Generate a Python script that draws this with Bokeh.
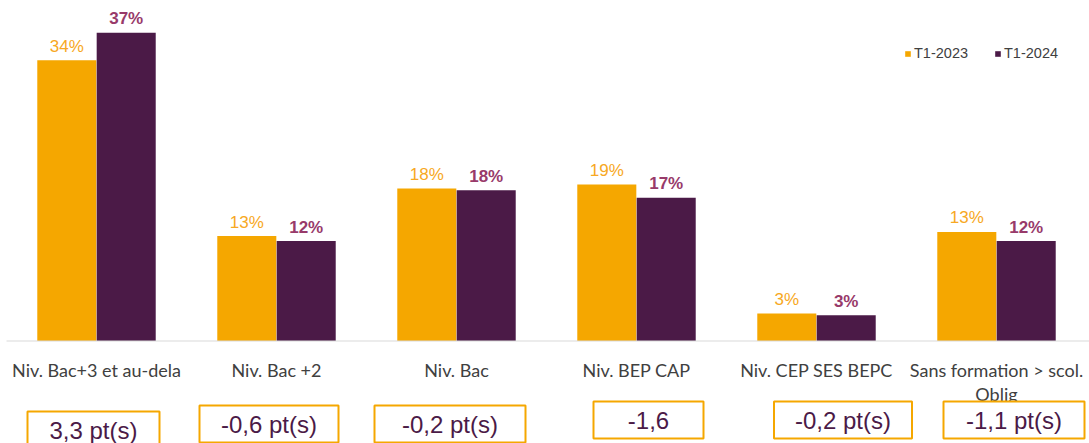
from bokeh.plotting import figure
from bokeh.models import Range1d, Legend, LegendItem, ColumnDataSource
from bokeh.transform import dodge
from bokeh.core.properties import value
from bokeh.embed import file_html
from bokeh.resources import INLINE
import numpy as np

# ---------------- data ----------------
categories = ["Niv. Bac+3 et au-dela", "Niv. Bac +2", "Niv. Bac", "Niv. BEP CAP",
              "Niv. CEP SES BEPC", "Sans formation > scol.\nOblig"]
series_names = ["T1-2023", "T1-2024"]
t1_2023 = [33.7, 12.6, 18.3, 18.8, 3.3, 13.1]
t1_2024 = [37.0, 12.0, 18.1, 17.2, 3.1, 12.0]
diff_labels = ["3,3 pt(s)", "-0,6 pt(s)", "-0,2 pt(s)", "-1,6", "-0,2 pt(s)", "-1,1 pt(s)"]

# ---------------- layout / style ----------------
W, H = 1089, 443
X0 = 6          # pixel of x = 0
CAT_PX = 180    # pixels per category
BASE_PX = 340.5 # pixel row of value 0
PX_PER = 8.33   # pixels per percentage point

ORANGE = "#F5A700"
PURPLE = "#4B1A47"
ORANGE_TXT = "#F7A823"
PURPLE_TXT = "#983A6A"
GREY_TXT = "#404040"

def xd(px):
    return (px - X0) / CAT_PX

def yd(py):
    return (BASE_PX - py) / PX_PER

# boxes below the categories (pixel layout)
box_cx = [93, 268.5, 449.5, 648, 842.5, 1013.5]
box_w = [132, 139, 151, 110, 138, 141]
box_top = [411, 405, 405, 401, 401, 401]
BOX_H = 37

p = figure(width=W, height=H,
           x_range=Range1d(xd(0), xd(W)), y_range=Range1d(yd(H), yd(0)),
           output_backend="svg", toolbar_location=None,
           x_axis_location=None, y_axis_location=None,
           min_border=0, outline_line_color=None,
           background_fill_color="white", border_fill_color="white")
p.grid.grid_line_color = None

idx = np.arange(len(categories))
src = ColumnDataSource(dict(
    x=idx + 0.5,
    cat=categories,
    a=t1_2023,
    b=t1_2024,
    la=[f"{v:.0f}%" for v in t1_2023],
    lb=[f"{v:.0f}%" for v in t1_2024],
))

OFF = 0.165
BW = 0.328
r1 = p.vbar(x=dodge("x", -OFF, range=p.x_range), top="a", bottom=0, width=BW,
            fill_color=ORANGE, line_color=None, source=src)
r2 = p.vbar(x=dodge("x", OFF, range=p.x_range), top="b", bottom=0, width=BW,
            fill_color=PURPLE, line_color=None, source=src)

# axis baseline
p.segment(x0=0, y0=0, x1=xd(W), y1=0, line_color="#D9D9D9", line_width=1)

# value labels
p.text(x=dodge("x", -OFF, range=p.x_range), y="a", text="la", source=src,
       text_align="center", text_baseline="alphabetic", y_offset=-14,
       text_font=value("Liberation Sans"), text_font_size="17px", text_color=ORANGE_TXT)
p.text(x=dodge("x", OFF, range=p.x_range), y="b", text="lb", source=src,
       text_align="center", text_baseline="alphabetic", y_offset=-14,
       text_font=value("Liberation Sans"), text_font_size="17px",
       text_font_style="bold", text_color=PURPLE_TXT)

# category labels
p.text(x="x", y=yd(358), text="cat", source=src,
       text_align="center", text_baseline="top",
       text_font=value("Lato"), text_font_size="18px", text_color=GREY_TXT,
       text_line_height=1.1)

# difference boxes
bsrc = ColumnDataSource(dict(
    x=[xd(c) for c in box_cx],
    y=[yd(t + BOX_H / 2) for t in box_top],
    w=[bw / CAT_PX for bw in box_w],
    t=diff_labels,
))
p.rect(x="x", y="y", width="w", height=BOX_H, height_units="screen", source=bsrc,
       fill_color="white", line_color=ORANGE, line_width=2)
p.text(x="x", y="y", text="t", source=bsrc, text_align="center", text_baseline="middle",
       y_offset=0,
       text_font=value("Liberation Sans"), text_font_size="24px", text_color=PURPLE)

legend = Legend(items=[LegendItem(label=series_names[0], renderers=[r1]),
                       LegendItem(label=series_names[1], renderers=[r2])],
                orientation="horizontal", location=(904, 382),
                glyph_width=7, glyph_height=7, label_standoff=3, spacing=26,
                label_text_font="Liberation Sans", label_text_font_size="14.5px",
                label_text_color=GREY_TXT, border_line_color=None,
                background_fill_alpha=0, padding=0, margin=0, label_height=14)
p.add_layout(legend)

open("out.html", "w").write(file_html(p, INLINE))
